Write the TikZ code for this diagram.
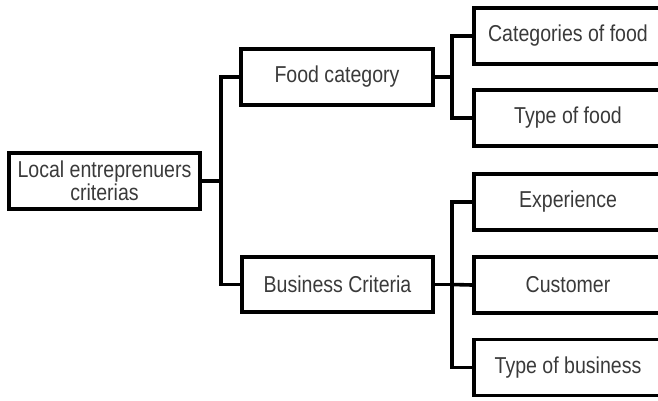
\documentclass[tikz,border=0pt]{standalone}
\usepackage{fontspec}
\setmainfont[FakeStretch=0.85]{Liberation Sans}
\definecolor{txtgray}{RGB}{58,58,58}
\begin{document}
\begin{tikzpicture}[x=1pt,y=-1pt,
  box/.style={draw=black, line width=3.8pt, rectangle, inner sep=0pt, align=center,
    text=txtgray, font=\fontsize{23}{23.5}\selectfont, minimum height=56pt},
  link/.style={draw=black, line width=3.6pt}]
\useasboundingbox (0,0) rectangle (658,400);
\node[box, minimum width=191pt] (root) at (104.5,181) {Local entreprenuers\\criterias};
\node[box, minimum width=192pt] (food) at (337,77) {Food category};
\node[box, minimum width=191pt, minimum height=55pt] (biz) at (337.5,284.5) {Business Criteria};
\node[box, minimum width=188pt] (c1) at (568,36) {Categories of food};
\node[box, minimum width=188pt] (c2) at (568,118) {Type of food};
\node[box, minimum width=188pt] (c3) at (568,202) {Experience};
\node[box, minimum width=188pt] (c4) at (568,285) {Customer};
\node[box, minimum width=188pt] (c5) at (568,367.5) {Type of business};
\coordinate (t1) at (221,181);
\coordinate (t2) at (452,77);
\coordinate (t3) at (452,284.5);
\draw[link] (root.east) -- (t1);
\draw[link] (food.west) -| (t1) |- (biz.west);
\draw[link] (food.east) -- (t2);
\draw[link] (c1.west) -| (t2) |- (c2.west);
\draw[link] (biz.east) -- (t3);
\draw[link] (c3.west) -| (t3) |- (c5.west);
\draw[link] (t3) -- (c4.west);
\end{tikzpicture}
\end{document}
